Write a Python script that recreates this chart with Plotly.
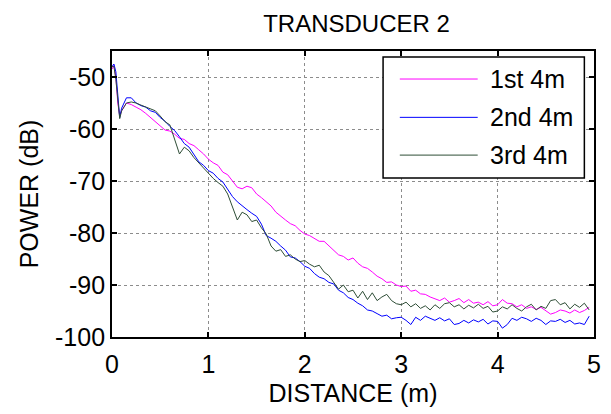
import plotly.graph_objects as go

distance = [0.0, 0.02, 0.04, 0.06, 0.08] + [round(0.10 + 0.05 * i, 2) for i in range(98)]

power_1st = [-48.5, -47.8, -50.0, -55.0, -57.5, -56.5, -55.0, -55.3, -55.8, -56.3,
             -57.0, -57.8, -58.6, -59.5, -60.2, -60.4, -61.0, -61.8, -62.0, -62.8,
             -63.2, -64.0, -64.8, -65.8, -66.5, -67.0, -68.3, -68.8, -70.0, -71.2,
             -71.5, -71.0, -71.3, -72.5, -73.2, -74.0, -74.8, -76.0, -76.8, -77.5,
             -78.2, -78.6, -79.5, -80.2, -80.5, -81.0, -81.6, -81.6, -82.5, -83.5,
             -84.2, -84.5, -85.2, -84.8, -85.8, -86.5, -86.8, -87.5, -88.3, -88.8,
             -89.5, -89.4, -90.0, -90.3, -90.2, -91.2, -91.0, -91.7, -91.8, -92.3,
             -92.7, -93.0, -92.5, -93.3, -93.0, -92.6, -93.4, -92.8, -93.5, -93.3,
             -93.8, -93.2, -94.0, -93.8, -92.8, -93.5, -93.6, -94.2, -93.8, -94.5,
             -94.2, -94.7, -94.3, -95.0, -95.6, -95.3, -94.8, -95.0, -95.4, -94.8,
             -95.3, -94.9, -94.3]

power_2nd = [-48.0, -47.5, -49.0, -54.0, -57.8, -56.0, -54.0, -54.0, -55.0, -55.5,
             -55.8, -56.5, -56.8, -57.8, -58.5, -59.5, -60.3, -61.5, -62.8, -63.5,
             -65.0, -66.3, -67.0, -68.0, -68.5, -69.5, -70.2, -71.5, -73.0, -74.0,
             -74.8, -75.5, -76.2, -76.8, -78.3, -80.5, -81.0, -81.6, -82.5, -83.3,
             -84.6, -84.8, -85.5, -86.4, -86.8, -87.8, -88.5, -88.8, -89.5, -89.8,
             -91.0, -91.5, -92.4, -92.8, -93.5, -94.0, -94.8, -95.0, -95.5, -96.0,
             -95.8, -96.5, -96.3, -96.2, -96.8, -97.6, -96.2, -96.8, -96.0, -96.4,
             -96.8, -96.3, -96.9, -96.5, -97.6, -97.4, -96.8, -97.3, -96.7, -97.1,
             -96.6, -97.5, -96.9, -97.0, -98.3, -97.6, -96.4, -96.8, -96.2, -96.5,
             -97.0, -96.4, -96.8, -97.6, -96.9, -97.0, -96.6, -97.2, -96.8, -97.5,
             -97.3, -97.6, -96.0]

power_3rd = [-48.0, -48.0, -50.5, -55.0, -58.0, -56.5, -55.0, -54.8, -55.0, -55.4,
             -55.8, -56.2, -56.5, -57.5, -58.6, -59.2, -62.0, -64.8, -63.5, -64.2,
             -65.5, -66.5, -67.5, -68.6, -69.5, -70.3, -71.0, -72.5, -75.0, -77.5,
             -76.0, -76.5, -77.8, -77.5, -79.0, -80.2, -82.5, -83.5, -83.2, -84.5,
             -84.2, -85.0, -85.5, -85.3, -86.0, -86.5, -86.2, -87.5, -88.2, -89.5,
             -90.8, -90.0, -91.3, -91.0, -92.5, -91.2, -92.8, -91.5, -93.0, -92.3,
             -91.8, -93.0, -93.6, -93.8, -93.3, -94.2, -93.6, -94.5, -94.0, -94.8,
             -93.8, -94.5, -93.6, -93.4, -94.2, -93.8, -94.6, -93.9, -94.4, -93.7,
             -94.5, -94.1, -95.2, -95.0, -94.2, -94.6, -93.8, -94.5, -95.0, -94.2,
             -93.7, -94.8, -94.1, -94.5, -93.0, -92.8, -93.8, -93.4, -94.6, -93.7,
             -94.3, -93.5, -94.8]

series_names = ["1st 4m", "2nd 4m", "3rd 4m"]
series_colors = ["#FF00FF", "#0000FF", "#2E4D36"]
x_ticks = [0, 1, 2, 3, 4, 5]
y_ticks = [-100, -90, -80, -70, -60, -50]

FONT = "Liberation Sans, Arial, sans-serif"

fig = go.Figure()
for name, ys, col in zip(series_names, [power_1st, power_2nd, power_3rd], series_colors):
    fig.add_trace(go.Scatter(x=distance, y=ys, mode="lines", name=name,
                             showlegend=False,
                             line=dict(color=col, width=1)))

axis_common = dict(
    showline=True, linecolor="black", linewidth=1.8, mirror="allticks",
    ticks="inside", ticklen=5, tickcolor="black", tickwidth=1.8,
    showgrid=True, gridcolor="#8c8c8c", griddash="dot", gridwidth=1,
    zeroline=False, tickfont=dict(family=FONT, size=25, color="black"),
)

fig.update_layout(
    width=611, height=414,
    margin=dict(l=112, r=10, t=51, b=77),
    paper_bgcolor="white", plot_bgcolor="white",
    title=dict(text="TRANSDUCER 2", x=0.5835, xanchor="center", y=0.942, yanchor="middle",
               font=dict(family=FONT, size=24, color="black")),
    xaxis=dict(range=[0, 5], tickvals=x_ticks, ticktext=[str(v) for v in x_ticks],
               ticklabelstandoff=4,
               title=dict(text="DISTANCE (m)", font=dict(family=FONT, size=25, color="black"),
                          standoff=8),
               **axis_common),
    yaxis=dict(range=[-100, -45], tickvals=y_ticks, ticktext=[str(v) for v in y_ticks],
               title=dict(text="POWER (dB)", font=dict(family=FONT, size=25, color="black"),
                          standoff=9),
               **axis_common),
    showlegend=False,
)

# Legend box (drawn in paper coordinates, MATLAB style)
leg_x0, leg_x1, leg_y0, leg_y1 = 0.5624, 0.9800, 0.556, 0.979
row_y = [0.902, 0.768, 0.636]
line_x0, line_x1, text_x = 0.5971, 0.7587, 0.7791
fig.add_shape(type="rect", xref="paper", yref="paper",
              x0=leg_x0, x1=leg_x1, y0=leg_y0, y1=leg_y1,
              line=dict(color="black", width=1.5), fillcolor="white", layer="above")
for name, col, ry in zip(series_names, series_colors, row_y):
    fig.add_shape(type="line", xref="paper", yref="paper",
                  x0=line_x0, x1=line_x1, y0=ry, y1=ry,
                  line=dict(color=col, width=1), layer="above")
    fig.add_annotation(xref="paper", yref="paper", x=text_x, y=ry,
                       xanchor="left", yanchor="middle", showarrow=False,
                       text=name, font=dict(family=FONT, size=25, color="black"))

fig.write_html("out.html")
